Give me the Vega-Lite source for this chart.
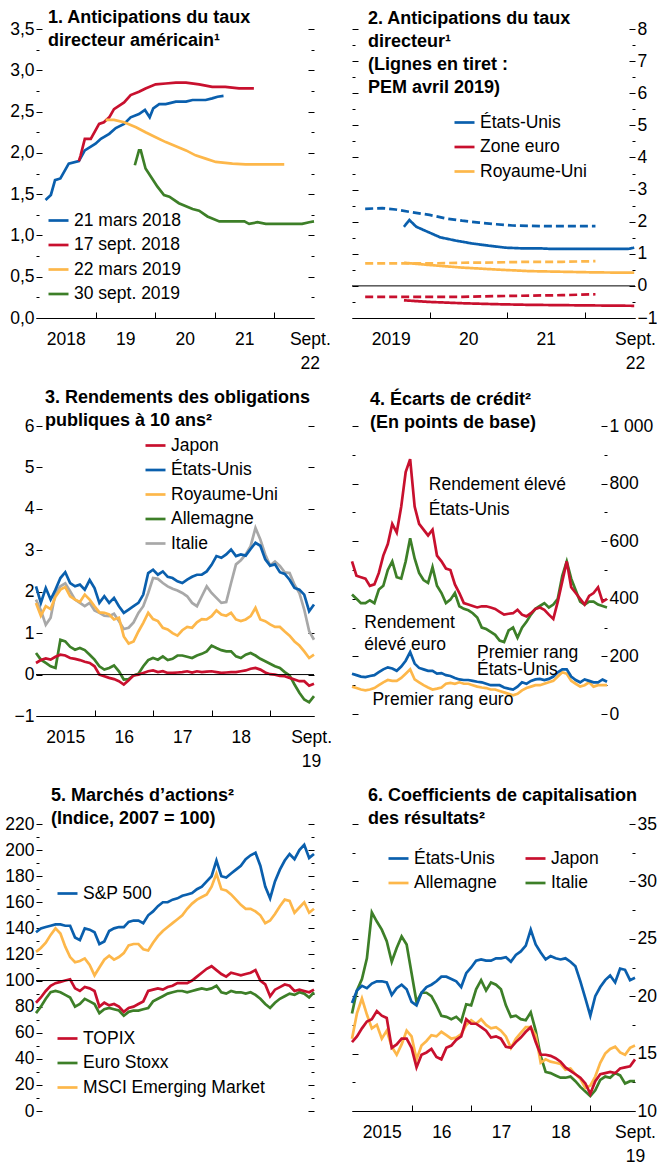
{
"$schema": "https://vega.github.io/schema/vega-lite/v6.json",
"background": "white",
"padding": {"left": 4, "top": 9, "right": 0, "bottom": 0},
"columns": 2,
"bounds": "flush",
"spacing": {"row": 108, "column": 38},
"resolve": {"scale": {"x": "independent", "y": "independent", "color": "independent", "stroke": "independent", "strokeDash": "independent"}, "axis": {"x": "independent", "y": "independent"}, "legend": {"color": "independent", "stroke": "independent"}},
"datasets": {
"p1": [
{"s":"21 mars 2018","t":2018.16,"v":1.43},{"s":"21 mars 2018","t":2018.25,"v":1.49},{"s":"21 mars 2018","t":2018.32,"v":1.67},{"s":"21 mars 2018","t":2018.41,"v":1.69},{"s":"21 mars 2018","t":2018.55,"v":1.87},{"s":"21 mars 2018","t":2018.72,"v":1.9},{"s":"21 mars 2018","t":2018.82,"v":2.03},{"s":"21 mars 2018","t":2019.0,"v":2.11},{"s":"21 mars 2018","t":2019.09,"v":2.17},{"s":"21 mars 2018","t":2019.23,"v":2.23},{"s":"21 mars 2018","t":2019.34,"v":2.3},{"s":"21 mars 2018","t":2019.48,"v":2.35},{"s":"21 mars 2018","t":2019.59,"v":2.43},{"s":"21 mars 2018","t":2019.73,"v":2.47},{"s":"21 mars 2018","t":2019.83,"v":2.52},{"s":"21 mars 2018","t":2019.91,"v":2.43},{"s":"21 mars 2018","t":2019.97,"v":2.54},{"s":"21 mars 2018","t":2020.07,"v":2.59},{"s":"21 mars 2018","t":2020.18,"v":2.59},{"s":"21 mars 2018","t":2020.35,"v":2.62},{"s":"21 mars 2018","t":2020.52,"v":2.62},{"s":"21 mars 2018","t":2020.63,"v":2.64},{"s":"21 mars 2018","t":2020.85,"v":2.64},{"s":"21 mars 2018","t":2020.96,"v":2.66},{"s":"21 mars 2018","t":2021.05,"v":2.68},{"s":"21 mars 2018","t":2021.15,"v":2.69},
{"s":"17 sept. 2018","t":2018.72,"v":1.9},{"s":"17 sept. 2018","t":2018.75,"v":1.97},{"s":"17 sept. 2018","t":2018.82,"v":2.17},{"s":"17 sept. 2018","t":2018.92,"v":2.17},{"s":"17 sept. 2018","t":2019.06,"v":2.35},{"s":"17 sept. 2018","t":2019.14,"v":2.37},{"s":"17 sept. 2018","t":2019.23,"v":2.43},{"s":"17 sept. 2018","t":2019.31,"v":2.53},{"s":"17 sept. 2018","t":2019.48,"v":2.61},{"s":"17 sept. 2018","t":2019.59,"v":2.7},{"s":"17 sept. 2018","t":2019.73,"v":2.74},{"s":"17 sept. 2018","t":2019.84,"v":2.78},{"s":"17 sept. 2018","t":2020.01,"v":2.83},{"s":"17 sept. 2018","t":2020.18,"v":2.84},{"s":"17 sept. 2018","t":2020.35,"v":2.85},{"s":"17 sept. 2018","t":2020.52,"v":2.85},{"s":"17 sept. 2018","t":2020.74,"v":2.83},{"s":"17 sept. 2018","t":2020.96,"v":2.8},{"s":"17 sept. 2018","t":2021.18,"v":2.8},{"s":"17 sept. 2018","t":2021.41,"v":2.78},{"s":"17 sept. 2018","t":2021.66,"v":2.78},
{"s":"22 mars 2019","t":2019.17,"v":2.4},{"s":"22 mars 2019","t":2019.31,"v":2.4},{"s":"22 mars 2019","t":2019.48,"v":2.37},{"s":"22 mars 2019","t":2019.68,"v":2.31},{"s":"22 mars 2019","t":2019.84,"v":2.25},{"s":"22 mars 2019","t":2020.01,"v":2.19},{"s":"22 mars 2019","t":2020.18,"v":2.13},{"s":"22 mars 2019","t":2020.35,"v":2.08},{"s":"22 mars 2019","t":2020.52,"v":2.03},{"s":"22 mars 2019","t":2020.68,"v":1.97},{"s":"22 mars 2019","t":2020.85,"v":1.93},{"s":"22 mars 2019","t":2021.02,"v":1.89},{"s":"22 mars 2019","t":2021.3,"v":1.87},{"s":"22 mars 2019","t":2021.52,"v":1.86},{"s":"22 mars 2019","t":2021.86,"v":1.86},{"s":"22 mars 2019","t":2022.17,"v":1.86},
{"s":"30 sept. 2019","t":2019.66,"v":1.85},{"s":"30 sept. 2019","t":2019.73,"v":2.03},{"s":"30 sept. 2019","t":2019.76,"v":2.03},{"s":"30 sept. 2019","t":2019.84,"v":1.81},{"s":"30 sept. 2019","t":2019.95,"v":1.69},{"s":"30 sept. 2019","t":2020.04,"v":1.59},{"s":"30 sept. 2019","t":2020.15,"v":1.49},{"s":"30 sept. 2019","t":2020.24,"v":1.47},{"s":"30 sept. 2019","t":2020.4,"v":1.39},{"s":"30 sept. 2019","t":2020.63,"v":1.32},{"s":"30 sept. 2019","t":2020.74,"v":1.3},{"s":"30 sept. 2019","t":2020.88,"v":1.23},{"s":"30 sept. 2019","t":2021.08,"v":1.17},{"s":"30 sept. 2019","t":2021.3,"v":1.17},{"s":"30 sept. 2019","t":2021.5,"v":1.17},{"s":"30 sept. 2019","t":2021.58,"v":1.14},{"s":"30 sept. 2019","t":2021.72,"v":1.16},{"s":"30 sept. 2019","t":2021.86,"v":1.14},{"s":"30 sept. 2019","t":2022.14,"v":1.14},{"s":"30 sept. 2019","t":2022.47,"v":1.14},{"s":"30 sept. 2019","t":2022.59,"v":1.16},{"s":"30 sept. 2019","t":2022.67,"v":1.17}
],
"p2": [
{"s":"États-Unis","d":"a","t":2019.67,"v":1.84},{"s":"États-Unis","d":"a","t":2019.74,"v":2.05},{"s":"États-Unis","d":"a","t":2019.83,"v":1.84},{"s":"États-Unis","d":"a","t":2019.97,"v":1.69},{"s":"États-Unis","d":"a","t":2020.14,"v":1.51},{"s":"États-Unis","d":"a","t":2020.34,"v":1.41},{"s":"États-Unis","d":"a","t":2020.55,"v":1.32},{"s":"États-Unis","d":"a","t":2020.77,"v":1.25},{"s":"États-Unis","d":"a","t":2020.98,"v":1.19},{"s":"États-Unis","d":"a","t":2021.18,"v":1.17},{"s":"États-Unis","d":"a","t":2021.41,"v":1.17},{"s":"États-Unis","d":"a","t":2021.59,"v":1.15},{"s":"États-Unis","d":"a","t":2021.94,"v":1.15},{"s":"États-Unis","d":"a","t":2022.28,"v":1.15},{"s":"États-Unis","d":"a","t":2022.56,"v":1.15},{"s":"États-Unis","d":"a","t":2022.64,"v":1.19},
{"s":"États-Unis","d":"b","t":2019.17,"v":2.4},{"s":"États-Unis","d":"b","t":2019.39,"v":2.42},{"s":"États-Unis","d":"b","t":2019.56,"v":2.38},{"s":"États-Unis","d":"b","t":2019.78,"v":2.29},{"s":"États-Unis","d":"b","t":2020.0,"v":2.21},{"s":"États-Unis","d":"b","t":2020.21,"v":2.1},{"s":"États-Unis","d":"b","t":2020.42,"v":2.03},{"s":"États-Unis","d":"b","t":2020.64,"v":1.97},{"s":"États-Unis","d":"b","t":2020.86,"v":1.92},{"s":"États-Unis","d":"b","t":2021.07,"v":1.88},{"s":"États-Unis","d":"b","t":2021.5,"v":1.86},{"s":"États-Unis","d":"b","t":2022.14,"v":1.86},
{"s":"Zone euro","d":"a","t":2019.67,"v":-0.45},{"s":"Zone euro","d":"a","t":2020.0,"v":-0.5},{"s":"Zone euro","d":"a","t":2020.42,"v":-0.54},{"s":"Zone euro","d":"a","t":2020.86,"v":-0.57},{"s":"Zone euro","d":"a","t":2021.28,"v":-0.59},{"s":"Zone euro","d":"a","t":2021.71,"v":-0.6},{"s":"Zone euro","d":"a","t":2022.14,"v":-0.61},{"s":"Zone euro","d":"a","t":2022.64,"v":-0.62},
{"s":"Zone euro","d":"b","t":2019.17,"v":-0.34},{"s":"Zone euro","d":"b","t":2019.7,"v":-0.34},{"s":"Zone euro","d":"b","t":2020.42,"v":-0.34},{"s":"Zone euro","d":"b","t":2021.07,"v":-0.31},{"s":"Zone euro","d":"b","t":2021.71,"v":-0.29},{"s":"Zone euro","d":"b","t":2022.14,"v":-0.26},
{"s":"Royaume-Uni","d":"a","t":2019.67,"v":0.72},{"s":"Royaume-Uni","d":"a","t":2020.0,"v":0.65},{"s":"Royaume-Uni","d":"a","t":2020.42,"v":0.57},{"s":"Royaume-Uni","d":"a","t":2020.86,"v":0.51},{"s":"Royaume-Uni","d":"a","t":2021.28,"v":0.46},{"s":"Royaume-Uni","d":"a","t":2021.71,"v":0.44},{"s":"Royaume-Uni","d":"a","t":2022.14,"v":0.42},{"s":"Royaume-Uni","d":"a","t":2022.64,"v":0.41},
{"s":"Royaume-Uni","d":"b","t":2019.17,"v":0.7},{"s":"Royaume-Uni","d":"b","t":2019.7,"v":0.7},{"s":"Royaume-Uni","d":"b","t":2020.0,"v":0.7},{"s":"Royaume-Uni","d":"b","t":2020.42,"v":0.72},{"s":"Royaume-Uni","d":"b","t":2020.86,"v":0.73},{"s":"Royaume-Uni","d":"b","t":2021.28,"v":0.75},{"s":"Royaume-Uni","d":"b","t":2021.71,"v":0.75},{"s":"Royaume-Uni","d":"b","t":2022.14,"v":0.77}
],
"p3": [
{"t":2015,"JP":0.28,"US":2.13,"UK":1.73,"DE":0.52,"IT":1.81},
{"t":2015.083,"JP":0.35,"US":1.73,"UK":1.42,"DE":0.36,"IT":1.55},
{"t":2015.167,"JP":0.39,"US":2.09,"UK":1.65,"DE":0.28,"IT":1.2},
{"t":2015.25,"JP":0.36,"US":1.81,"UK":1.58,"DE":0.2,"IT":1.37},
{"t":2015.333,"JP":0.43,"US":2.05,"UK":1.88,"DE":0.16,"IT":1.97},
{"t":2015.417,"JP":0.48,"US":2.33,"UK":2.05,"DE":0.84,"IT":2.13},
{"t":2015.5,"JP":0.46,"US":2.47,"UK":2.11,"DE":0.8,"IT":2.2},
{"t":2015.583,"JP":0.4,"US":2.21,"UK":1.89,"DE":0.67,"IT":2.01},
{"t":2015.667,"JP":0.38,"US":2.13,"UK":1.81,"DE":0.6,"IT":1.81},
{"t":2015.75,"JP":0.35,"US":2.17,"UK":1.75,"DE":0.64,"IT":1.73},
{"t":2015.833,"JP":0.31,"US":2.05,"UK":1.93,"DE":0.59,"IT":1.65},
{"t":2015.917,"JP":0.28,"US":2.28,"UK":1.81,"DE":0.48,"IT":1.73},
{"t":2016,"JP":0.2,"US":2.09,"UK":1.65,"DE":0.36,"IT":1.55},
{"t":2016.083,"JP":0,"US":1.73,"UK":1.5,"DE":0.2,"IT":1.49},
{"t":2016.167,"JP":-0.04,"US":1.89,"UK":1.49,"DE":0.12,"IT":1.42},
{"t":2016.25,"JP":-0.08,"US":1.73,"UK":1.45,"DE":0.16,"IT":1.41},
{"t":2016.333,"JP":-0.11,"US":1.85,"UK":1.33,"DE":0.22,"IT":1.47},
{"t":2016.417,"JP":-0.16,"US":1.65,"UK":1.37,"DE":0.08,"IT":1.29},
{"t":2016.5,"JP":-0.24,"US":1.49,"UK":0.92,"DE":-0.12,"IT":1.1},
{"t":2016.583,"JP":-0.14,"US":1.57,"UK":0.75,"DE":-0.11,"IT":1.13},
{"t":2016.667,"JP":-0.02,"US":1.65,"UK":0.8,"DE":-0.02,"IT":1.26},
{"t":2016.75,"JP":0,"US":1.73,"UK":1.04,"DE":0.02,"IT":1.49},
{"t":2016.833,"JP":0.04,"US":1.93,"UK":1.25,"DE":0.2,"IT":1.65},
{"t":2016.917,"JP":0.08,"US":2.45,"UK":1.49,"DE":0.35,"IT":1.97},
{"t":2017,"JP":0.1,"US":2.53,"UK":1.34,"DE":0.4,"IT":2.33},
{"t":2017.083,"JP":0.06,"US":2.41,"UK":1.29,"DE":0.36,"IT":2.31},
{"t":2017.167,"JP":0.08,"US":2.49,"UK":1.13,"DE":0.44,"IT":2.21},
{"t":2017.25,"JP":0.04,"US":2.36,"UK":1.09,"DE":0.35,"IT":2.13},
{"t":2017.333,"JP":0.04,"US":2.33,"UK":1,"DE":0.38,"IT":2.07},
{"t":2017.417,"JP":0.05,"US":2.25,"UK":0.94,"DE":0.46,"IT":2.03},
{"t":2017.5,"JP":0.06,"US":2.21,"UK":1.07,"DE":0.46,"IT":1.97},
{"t":2017.583,"JP":0.08,"US":2.29,"UK":1.15,"DE":0.43,"IT":1.89},
{"t":2017.667,"JP":0.05,"US":2.36,"UK":1.13,"DE":0.4,"IT":1.73},
{"t":2017.75,"JP":0.08,"US":2.41,"UK":1.26,"DE":0.46,"IT":1.65},
{"t":2017.833,"JP":0.06,"US":2.41,"UK":1.34,"DE":0.5,"IT":1.89},
{"t":2017.917,"JP":0.07,"US":2.49,"UK":1.33,"DE":0.56,"IT":2.13},
{"t":2018,"JP":0.08,"US":2.65,"UK":1.41,"DE":0.7,"IT":1.97},
{"t":2018.083,"JP":0.06,"US":2.86,"UK":1.55,"DE":0.64,"IT":1.85},
{"t":2018.167,"JP":0.04,"US":2.82,"UK":1.45,"DE":0.59,"IT":1.73},
{"t":2018.25,"JP":0.05,"US":2.9,"UK":1.42,"DE":0.56,"IT":1.75},
{"t":2018.333,"JP":0.06,"US":3.02,"UK":1.49,"DE":0.56,"IT":2.21},
{"t":2018.417,"JP":0.06,"US":2.86,"UK":1.33,"DE":0.44,"IT":2.66},
{"t":2018.5,"JP":0.08,"US":2.9,"UK":1.29,"DE":0.4,"IT":2.76},
{"t":2018.583,"JP":0.1,"US":2.87,"UK":1.33,"DE":0.48,"IT":2.9},
{"t":2018.667,"JP":0.14,"US":3.03,"UK":1.41,"DE":0.52,"IT":3.1},
{"t":2018.75,"JP":0.16,"US":3.18,"UK":1.61,"DE":0.46,"IT":3.54},
{"t":2018.833,"JP":0.12,"US":3.11,"UK":1.33,"DE":0.38,"IT":3.26},
{"t":2018.917,"JP":0.05,"US":2.78,"UK":1.29,"DE":0.32,"IT":2.9},
{"t":2019,"JP":0.01,"US":2.63,"UK":1.21,"DE":0.26,"IT":2.63},
{"t":2019.083,"JP":0,"US":2.66,"UK":1.15,"DE":0.2,"IT":2.73},
{"t":2019.167,"JP":-0.03,"US":2.47,"UK":1.15,"DE":0.16,"IT":2.62},
{"t":2019.25,"JP":-0.04,"US":2.43,"UK":1.04,"DE":0.06,"IT":2.47},
{"t":2019.333,"JP":-0.08,"US":2.29,"UK":0.94,"DE":-0.02,"IT":2.45},
{"t":2019.417,"JP":-0.12,"US":2.09,"UK":0.8,"DE":-0.24,"IT":2.17},
{"t":2019.5,"JP":-0.16,"US":2.05,"UK":0.7,"DE":-0.44,"IT":1.97},
{"t":2019.583,"JP":-0.16,"US":1.93,"UK":0.56,"DE":-0.6,"IT":1.57},
{"t":2019.667,"JP":-0.27,"US":1.53,"UK":0.4,"DE":-0.67,"IT":1.05},
{"t":2019.75,"JP":-0.22,"US":1.69,"UK":0.48,"DE":-0.52,"IT":0.84}
],
"p4": [
{"t":2015,"HU":530,"HE":415,"IU":140,"IE":95},
{"t":2015.083,"HU":480,"HE":400,"IU":135,"IE":90},
{"t":2015.167,"HU":475,"HE":385,"IU":130,"IE":85},
{"t":2015.25,"HU":470,"HE":385,"IU":128,"IE":82},
{"t":2015.333,"HU":445,"HE":395,"IU":132,"IE":85},
{"t":2015.417,"HU":450,"HE":385,"IU":135,"IE":90},
{"t":2015.5,"HU":490,"HE":432,"IU":145,"IE":100},
{"t":2015.583,"HU":550,"HE":445,"IU":155,"IE":110},
{"t":2015.667,"HU":590,"HE":500,"IU":162,"IE":118},
{"t":2015.75,"HU":660,"HE":530,"IU":158,"IE":115},
{"t":2015.833,"HU":630,"HE":475,"IU":150,"IE":115},
{"t":2015.917,"HU":720,"HE":470,"IU":165,"IE":125},
{"t":2016,"HU":840,"HE":530,"IU":185,"IE":140},
{"t":2016.083,"HU":885,"HE":610,"IU":215,"IE":155},
{"t":2016.167,"HU":720,"HE":540,"IU":175,"IE":120},
{"t":2016.25,"HU":660,"HE":490,"IU":160,"IE":110},
{"t":2016.333,"HU":640,"HE":465,"IU":155,"IE":100},
{"t":2016.417,"HU":620,"HE":455,"IU":150,"IE":92},
{"t":2016.5,"HU":640,"HE":510,"IU":150,"IE":85},
{"t":2016.583,"HU":550,"HE":445,"IU":140,"IE":88},
{"t":2016.667,"HU":530,"HE":420,"IU":142,"IE":92},
{"t":2016.75,"HU":505,"HE":385,"IU":135,"IE":105},
{"t":2016.833,"HU":500,"HE":397,"IU":132,"IE":108},
{"t":2016.917,"HU":450,"HE":420,"IU":125,"IE":105},
{"t":2017,"HU":420,"HE":374,"IU":120,"IE":110},
{"t":2017.083,"HU":385,"HE":365,"IU":118,"IE":105},
{"t":2017.167,"HU":380,"HE":360,"IU":118,"IE":105},
{"t":2017.25,"HU":375,"HE":350,"IU":115,"IE":100},
{"t":2017.333,"HU":370,"HE":335,"IU":112,"IE":95},
{"t":2017.417,"HU":374,"HE":300,"IU":110,"IE":92},
{"t":2017.5,"HU":374,"HE":295,"IU":105,"IE":90},
{"t":2017.583,"HU":370,"HE":285,"IU":100,"IE":85},
{"t":2017.667,"HU":365,"HE":275,"IU":100,"IE":85},
{"t":2017.75,"HU":355,"HE":255,"IU":100,"IE":80},
{"t":2017.833,"HU":345,"HE":250,"IU":92,"IE":75},
{"t":2017.917,"HU":348,"HE":290,"IU":88,"IE":70},
{"t":2018,"HU":350,"HE":300,"IU":85,"IE":65},
{"t":2018.083,"HU":362,"HE":265,"IU":95,"IE":70},
{"t":2018.167,"HU":345,"HE":300,"IU":110,"IE":82},
{"t":2018.25,"HU":339,"HE":320,"IU":105,"IE":90},
{"t":2018.333,"HU":350,"HE":345,"IU":115,"IE":95},
{"t":2018.417,"HU":365,"HE":365,"IU":120,"IE":100},
{"t":2018.5,"HU":370,"HE":375,"IU":122,"IE":100},
{"t":2018.583,"HU":362,"HE":385,"IU":118,"IE":105},
{"t":2018.667,"HU":345,"HE":370,"IU":122,"IE":110},
{"t":2018.75,"HU":330,"HE":380,"IU":130,"IE":115},
{"t":2018.833,"HU":390,"HE":400,"IU":145,"IE":130},
{"t":2018.917,"HU":460,"HE":480,"IU":155,"IE":145},
{"t":2019,"HU":530,"HE":530,"IU":155,"IE":140},
{"t":2019.083,"HU":440,"HE":470,"IU":130,"IE":115},
{"t":2019.167,"HU":420,"HE":430,"IU":118,"IE":105},
{"t":2019.25,"HU":400,"HE":390,"IU":110,"IE":95},
{"t":2019.333,"HU":380,"HE":380,"IU":120,"IE":100},
{"t":2019.417,"HU":410,"HE":390,"IU":115,"IE":110},
{"t":2019.5,"HU":420,"HE":390,"IU":110,"IE":95},
{"t":2019.583,"HU":440,"HE":380,"IU":110,"IE":100},
{"t":2019.667,"HU":390,"HE":375,"IU":120,"IE":100},
{"t":2019.75,"HU":400,"HE":370,"IU":112,"IE":100}
],
"p4t": [
{"t":2016.43,"v":778,"l":"Rendement élevé"},
{"t":2016.43,"v":691,"l":"États-Unis"},
{"t":2015.23,"v":298,"l":"Rendement"},
{"t":2015.23,"v":221,"l":"élevé euro"},
{"t":2017.33,"v":194,"l":"Premier rang"},
{"t":2017.33,"v":136,"l":"États-Unis"},
{"t":2015.38,"v":30,"l":"Premier rang euro"}
],
"p5": [
{"t":2015,"TP":83,"ES":75,"EM":122,"SP":137},
{"t":2015.083,"TP":87,"ES":80,"EM":125,"SP":140},
{"t":2015.167,"TP":92,"ES":86,"EM":129,"SP":141},
{"t":2015.25,"TP":96,"ES":91,"EM":135,"SP":142},
{"t":2015.333,"TP":98,"ES":92,"EM":140,"SP":143},
{"t":2015.417,"TP":99,"ES":91,"EM":136,"SP":143},
{"t":2015.5,"TP":100,"ES":89,"EM":126,"SP":142},
{"t":2015.583,"TP":101,"ES":87,"EM":118,"SP":142},
{"t":2015.667,"TP":94,"ES":80,"EM":114,"SP":133},
{"t":2015.75,"TP":92,"ES":82,"EM":115,"SP":131},
{"t":2015.833,"TP":95,"ES":86,"EM":117,"SP":140},
{"t":2015.917,"TP":94,"ES":84,"EM":112,"SP":139},
{"t":2016,"TP":92,"ES":82,"EM":104,"SP":137},
{"t":2016.083,"TP":80,"ES":75,"EM":110,"SP":128},
{"t":2016.167,"TP":83,"ES":78,"EM":116,"SP":130},
{"t":2016.25,"TP":81,"ES":79,"EM":119,"SP":138},
{"t":2016.333,"TP":82,"ES":78,"EM":116,"SP":140},
{"t":2016.417,"TP":80,"ES":77,"EM":118,"SP":141},
{"t":2016.5,"TP":76,"ES":73,"EM":121,"SP":141},
{"t":2016.583,"TP":79,"ES":76,"EM":127,"SP":145},
{"t":2016.667,"TP":80,"ES":77,"EM":128,"SP":146},
{"t":2016.75,"TP":82,"ES":77,"EM":128,"SP":146},
{"t":2016.833,"TP":84,"ES":78,"EM":124,"SP":144},
{"t":2016.917,"TP":92,"ES":79,"EM":123,"SP":150},
{"t":2017,"TP":93,"ES":84,"EM":129,"SP":153},
{"t":2017.083,"TP":94,"ES":86,"EM":134,"SP":157},
{"t":2017.167,"TP":93,"ES":88,"EM":138,"SP":160},
{"t":2017.25,"TP":95,"ES":90,"EM":141,"SP":160},
{"t":2017.333,"TP":96,"ES":91,"EM":144,"SP":162},
{"t":2017.417,"TP":98,"ES":92,"EM":147,"SP":163},
{"t":2017.5,"TP":98,"ES":92,"EM":150,"SP":165},
{"t":2017.583,"TP":98,"ES":91,"EM":155,"SP":166},
{"t":2017.667,"TP":100,"ES":92,"EM":159,"SP":167},
{"t":2017.75,"TP":103,"ES":93,"EM":162,"SP":170},
{"t":2017.833,"TP":106,"ES":94,"EM":164,"SP":172},
{"t":2017.917,"TP":109,"ES":93,"EM":166,"SP":176},
{"t":2018,"TP":111,"ES":94,"EM":172,"SP":180},
{"t":2018.083,"TP":108,"ES":96,"EM":182,"SP":192},
{"t":2018.167,"TP":105,"ES":91,"EM":170,"SP":180},
{"t":2018.25,"TP":103,"ES":90,"EM":169,"SP":179},
{"t":2018.333,"TP":106,"ES":92,"EM":166,"SP":182},
{"t":2018.417,"TP":105,"ES":91,"EM":162,"SP":185},
{"t":2018.5,"TP":104,"ES":91,"EM":158,"SP":188},
{"t":2018.583,"TP":105,"ES":90,"EM":155,"SP":193},
{"t":2018.667,"TP":106,"ES":91,"EM":155,"SP":196},
{"t":2018.75,"TP":108,"ES":89,"EM":153,"SP":198},
{"t":2018.833,"TP":100,"ES":86,"EM":150,"SP":188},
{"t":2018.917,"TP":97,"ES":82,"EM":144,"SP":172},
{"t":2019,"TP":88,"ES":79,"EM":146,"SP":163},
{"t":2019.083,"TP":93,"ES":83,"EM":151,"SP":176},
{"t":2019.167,"TP":95,"ES":86,"EM":157,"SP":185},
{"t":2019.25,"TP":97,"ES":88,"EM":162,"SP":192},
{"t":2019.333,"TP":96,"ES":90,"EM":161,"SP":197},
{"t":2019.417,"TP":92,"ES":89,"EM":152,"SP":193},
{"t":2019.5,"TP":93,"ES":91,"EM":156,"SP":200},
{"t":2019.583,"TP":92,"ES":90,"EM":160,"SP":204},
{"t":2019.667,"TP":91,"ES":87,"EM":152,"SP":194},
{"t":2019.75,"TP":93,"ES":91,"EM":155,"SP":197}
],
"p6": [
{"t":2015,"US":19.4,"JP":16.0,"DE":16.3,"IT":18.5},
{"t":2015.083,"US":20.5,"JP":16.5,"DE":18.5,"IT":20.5},
{"t":2015.167,"US":20.9,"JP":17.2,"DE":19.8,"IT":21.5},
{"t":2015.25,"US":20.7,"JP":17.8,"DE":18.4,"IT":23.3},
{"t":2015.333,"US":21.1,"JP":18.0,"DE":17.2,"IT":27.3},
{"t":2015.417,"US":21.3,"JP":18.7,"DE":17.5,"IT":26.5},
{"t":2015.5,"US":21.3,"JP":18.3,"DE":16.3,"IT":25.8},
{"t":2015.583,"US":21.2,"JP":18.1,"DE":17.0,"IT":24.8},
{"t":2015.667,"US":20.1,"JP":15.5,"DE":15.6,"IT":23.0},
{"t":2015.75,"US":20.7,"JP":15.8,"DE":14.9,"IT":24.2},
{"t":2015.833,"US":21.0,"JP":16.3,"DE":15.8,"IT":25.2},
{"t":2015.917,"US":20.6,"JP":16.3,"DE":17.0,"IT":24.5},
{"t":2016,"US":19.5,"JP":15.5,"DE":16.5,"IT":22.0},
{"t":2016.083,"US":19.2,"JP":13.8,"DE":14.5,"IT":19.5},
{"t":2016.167,"US":20.3,"JP":14.9,"DE":15.7,"IT":20.3},
{"t":2016.25,"US":20.8,"JP":15.1,"DE":16.1,"IT":20.3},
{"t":2016.333,"US":21.0,"JP":15.4,"DE":16.6,"IT":20.0},
{"t":2016.417,"US":21.3,"JP":14.7,"DE":16.5,"IT":19.2},
{"t":2016.5,"US":21.7,"JP":14.5,"DE":16.9,"IT":18.3},
{"t":2016.583,"US":21.7,"JP":15.5,"DE":16.6,"IT":18.2},
{"t":2016.667,"US":21.5,"JP":15.7,"DE":16.3,"IT":18.0},
{"t":2016.75,"US":21.3,"JP":16.2,"DE":16.4,"IT":18.2},
{"t":2016.833,"US":20.8,"JP":16.5,"DE":16.7,"IT":17.8},
{"t":2016.917,"US":22.0,"JP":18.0,"DE":17.5,"IT":19.3},
{"t":2017,"US":22.5,"JP":17.6,"DE":17.9,"IT":19.2},
{"t":2017.083,"US":23.1,"JP":17.6,"DE":17.6,"IT":20.6},
{"t":2017.167,"US":23.2,"JP":17.3,"DE":18.0,"IT":21.4},
{"t":2017.25,"US":23.1,"JP":17.0,"DE":17.5,"IT":20.5},
{"t":2017.333,"US":23.1,"JP":16.4,"DE":17.2,"IT":21.2},
{"t":2017.417,"US":23.3,"JP":16.5,"DE":17.3,"IT":21.0},
{"t":2017.5,"US":23.3,"JP":16.3,"DE":17.0,"IT":20.6},
{"t":2017.583,"US":23.4,"JP":15.6,"DE":16.5,"IT":19.2},
{"t":2017.667,"US":23.0,"JP":15.5,"DE":15.5,"IT":18.2},
{"t":2017.75,"US":23.6,"JP":16.0,"DE":16.3,"IT":18.3},
{"t":2017.833,"US":23.9,"JP":16.4,"DE":16.8,"IT":18.0},
{"t":2017.917,"US":24.4,"JP":16.9,"DE":17.3,"IT":17.9},
{"t":2018,"US":25.8,"JP":17.3,"DE":17.3,"IT":18.6},
{"t":2018.083,"US":24.5,"JP":16.0,"DE":16.6,"IT":17.0},
{"t":2018.167,"US":23.8,"JP":14.9,"DE":14.2,"IT":14.8},
{"t":2018.25,"US":23.2,"JP":14.9,"DE":14.5,"IT":13.4},
{"t":2018.333,"US":23.5,"JP":14.8,"DE":14.3,"IT":13.3},
{"t":2018.417,"US":23.3,"JP":14.6,"DE":14.2,"IT":13.1},
{"t":2018.5,"US":23.2,"JP":14.3,"DE":14.1,"IT":12.9},
{"t":2018.583,"US":23.3,"JP":13.8,"DE":13.6,"IT":12.9},
{"t":2018.667,"US":23.0,"JP":13.5,"DE":13.7,"IT":13.0},
{"t":2018.75,"US":22.6,"JP":13.2,"DE":13.2,"IT":12.6},
{"t":2018.833,"US":21.3,"JP":12.9,"DE":12.8,"IT":12.1},
{"t":2018.917,"US":19.8,"JP":12.4,"DE":12.0,"IT":11.7},
{"t":2019,"US":18.3,"JP":11.5,"DE":12.2,"IT":11.3},
{"t":2019.083,"US":20.0,"JP":12.6,"DE":13.0,"IT":11.8},
{"t":2019.167,"US":20.8,"JP":13.2,"DE":14.2,"IT":12.7},
{"t":2019.25,"US":21.4,"JP":13.3,"DE":15.0,"IT":13.0},
{"t":2019.333,"US":21.8,"JP":13.4,"DE":15.4,"IT":12.9},
{"t":2019.417,"US":21.2,"JP":13.3,"DE":15.6,"IT":13.3},
{"t":2019.5,"US":22.4,"JP":13.7,"DE":15.1,"IT":13.1},
{"t":2019.583,"US":22.3,"JP":13.8,"DE":14.9,"IT":12.4},
{"t":2019.667,"US":21.4,"JP":13.9,"DE":15.5,"IT":12.6},
{"t":2019.75,"US":21.6,"JP":14.5,"DE":15.7,"IT":12.6}
]
},
"concat": [
{
 "width": 278, "height": 289,
 "title": {"text": ["1. Anticipations du taux", "\u00a0\u00a0\u00a0\u00a0directeur américain¹"], "dx": 12, "offset": -30},
 "layer": [
  {
   "data": {"name": "p1"},
   "mark": {"type": "line", "strokeWidth": 2.7},
   "encoding": {
    "x": {"field": "t", "type": "quantitative", "scale": {"domain": [2018, 2022.67], "nice": false, "zero": false},
     "axis": {"title": null, "orient": "bottom", "values": [2018.5,2019,2019.5,2020,2020.5,2021,2021.5,2022,2022.6],
      "labelExpr": "datum.value==2018.5?'2018':datum.value==2019.5?'19':datum.value==2020.5?'20':datum.value==2021.5?'21':datum.value==2022.6?['Sept.','22']:''",
      "tickSize": {"condition": {"test": "datum.value % 1 == 0", "value": -6}, "value": 0}, "labelPadding": 12}},
    "y": {"field": "v", "type": "quantitative", "scale": {"domain": [0, 3.5], "nice": false, "zero": false},
     "axis": {"title": null, "orient": "left", "domain": false, "values": [0,0.25,0.5,0.75,1,1.25,1.5,1.75,2,2.25,2.5,2.75,3,3.25,3.5],
      "labelExpr": "datum.value % 0.5 == 0 ? replace(format(datum.value,'.1f'),'.',',') : ''",
      "tickSize": {"condition": {"test": "datum.value % 0.5 != 0", "value": -3}, "value": -6}, "labelPadding": 8}},
    "color": {"field": "s", "type": "nominal", "scale": {"domain": ["21 mars 2018","17 sept. 2018","22 mars 2019","30 sept. 2019"], "range": ["#0a5fad","#c8102e","#fdb74a","#3d7f28"]},
     "legend": {"title": null, "orient": "none", "legendX": 11, "legendY": 180}}
   }
  },
  {
   "data": {"values": [{}]},
   "mark": {"type": "rule", "opacity": 0},
   "encoding": {"y": {"datum": 0, "type": "quantitative",
     "axis": {"title": null, "orient": "right", "domain": false, "labels": false, "values": [0,0.25,0.5,0.75,1,1.25,1.5,1.75,2,2.25,2.5,2.75,3,3.25,3.5],
      "tickSize": {"condition": {"test": "datum.value % 0.5 != 0", "value": -3}, "value": -6}}}}
  }
 ],
 "resolve": {"axis": {"y": "independent"}}
},
{
 "width": 283, "height": 289,
 "title": {"text": ["2. Anticipations du taux", "\u00a0\u00a0\u00a0\u00a0directeur¹", "\u00a0\u00a0\u00a0\u00a0(Lignes en tiret :", "\u00a0\u00a0\u00a0\u00a0PEM avril 2019)"], "dx": 16, "offset": -77},
 "layer": [
  {
   "data": {"name": "p2"},
   "mark": {"type": "line", "strokeWidth": 2.7},
   "encoding": {
    "x": {"field": "t", "type": "quantitative", "scale": {"domain": [2019, 2022.65], "nice": false, "zero": false},
     "axis": {"title": null, "orient": "bottom", "values": [2019.5,2020,2020.5,2021,2021.5,2022,2022.65],
      "labelExpr": "datum.value==2019.5?'2019':datum.value==2020.5?'20':datum.value==2021.5?'21':datum.value==2022.65?['Sept.','22']:''",
      "tickSize": {"condition": {"test": "datum.value % 1 == 0", "value": -6}, "value": 0}, "labelPadding": 12}},
    "y": {"field": "v", "type": "quantitative", "scale": {"domain": [-1, 8], "nice": false, "zero": false},
     "axis": {"title": null, "orient": "left", "domain": false, "labels": false, "values": [-1,-0.5,0,0.5,1,1.5,2,2.5,3,3.5,4,4.5,5,5.5,6,6.5,7,7.5,8],
      "tickSize": {"condition": {"test": "datum.value % 1 != 0", "value": -3}, "value": -6}}},
    "color": {"field": "s", "type": "nominal", "scale": {"domain": ["États-Unis","Zone euro","Royaume-Uni"], "range": ["#0a5fad","#c8102e","#fdb74a"]},
     "legend": {"title": null, "orient": "none", "legendX": 101, "legendY": 82}},
    "strokeDash": {"field": "d", "type": "nominal", "scale": {"domain": ["a","b"], "range": [[1,0],[8,4]]}, "legend": null}
   }
  },
  {
   "data": {"values": [{}]},
   "mark": {"type": "rule", "color": "#000", "strokeWidth": 1},
   "encoding": {"y": {"datum": 0, "type": "quantitative",
     "axis": {"title": null, "orient": "right", "domain": false, "values": [-1,-0.5,0,0.5,1,1.5,2,2.5,3,3.5,4,4.5,5,5.5,6,6.5,7,7.5,8],
      "labelExpr": "datum.value % 1 == 0 ? format(datum.value,'d') : ''",
      "tickSize": {"condition": {"test": "datum.value % 1 != 0", "value": -3}, "value": -6}, "labelPadding": 8}}}
  }
 ],
 "resolve": {"axis": {"y": "independent"}}
},
{
 "width": 278, "height": 290,
 "title": {"text": ["3. Rendements des obligations", "\u00a0\u00a0\u00a0\u00a0publiques à 10 ans²"], "dx": 9, "offset": -13},
 "layer": [
  {
   "data": {"name": "p3"},
   "transform": [{"fold": ["IT","UK","DE","JP","US"], "as": ["key","value"]}],
   "mark": {"type": "line", "strokeWidth": 2.7},
   "encoding": {
    "x": {"field": "t", "type": "quantitative", "scale": {"domain": [2015, 2019.75], "nice": false, "zero": false},
     "axis": {"title": null, "orient": "bottom", "values": [2015.5,2016,2016.5,2017,2017.5,2018,2018.5,2019,2019.7],
      "labelExpr": "datum.value==2015.5?'2015':datum.value==2016.5?'16':datum.value==2017.5?'17':datum.value==2018.5?'18':datum.value==2019.7?['Sept.','19']:''",
      "tickSize": {"condition": {"test": "datum.value % 1 == 0", "value": -6}, "value": 0}, "labelPadding": 12}},
    "y": {"field": "value", "type": "quantitative", "scale": {"domain": [-1, 6], "nice": false, "zero": false},
     "axis": {"title": null, "orient": "left", "domain": false, "values": [-1,0,1,2,3,4,5,6],
      "labelExpr": "format(datum.value,'d')", "tickSize": -6, "labelPadding": 8}},
    "color": {"field": "key", "type": "nominal", "scale": {"domain": ["JP","US","UK","DE","IT"], "range": ["#c8102e","#0a5fad","#fdb74a","#3d7f28","#a8a8a8"]},
     "legend": {"title": null, "orient": "none", "legendX": 108, "legendY": 8,
      "labelExpr": "datum.label=='JP'?'Japon':datum.label=='US'?'États-Unis':datum.label=='UK'?'Royaume-Uni':datum.label=='DE'?'Allemagne':'Italie'"}}
   }
  },
  {
   "data": {"values": [{}]},
   "mark": {"type": "rule", "color": "#000", "strokeWidth": 1},
   "encoding": {"y": {"datum": 0, "type": "quantitative",
     "axis": {"title": null, "orient": "right", "domain": false, "labels": false, "values": [-1,0,1,2,3,4,5,6], "tickSize": -6}}}
  }
 ],
 "resolve": {"axis": {"y": "independent"}}
},
{
 "width": 255, "height": 288,
 "title": {"text": ["4. Écarts de crédit²", "\u00a0\u00a0\u00a0\u00a0(En points de base)"], "dx": 18, "offset": -15},
 "layer": [
  {
   "data": {"name": "p4"},
   "transform": [{"fold": ["IE","IU","HE","HU"], "as": ["key","value"]}],
   "mark": {"type": "line", "strokeWidth": 2.7},
   "encoding": {
    "x": {"field": "t", "type": "quantitative", "scale": {"domain": [2015, 2019.75], "nice": false, "zero": false},
     "axis": {"title": null, "orient": "bottom", "values": [2015.5,2016,2016.5,2017,2017.5,2018,2018.5,2019,2019.75],
      "labelExpr": "datum.value==2015.5?'2015':datum.value==2016.5?'16':datum.value==2017.5?'17':datum.value==2018.5?'18':datum.value==2019.75?['Sept.','19']:''",
      "tickSize": {"condition": {"test": "datum.value % 1 == 0", "value": -6}, "value": 0}, "labelPadding": 12}},
    "y": {"field": "value", "type": "quantitative", "scale": {"domain": [0, 1000], "nice": false, "zero": false},
     "axis": {"title": null, "orient": "left", "domain": false, "labels": false, "values": [0,100,200,300,400,500,600,700,800,900,1000],
      "tickSize": {"condition": {"test": "datum.value % 200 != 0", "value": -3}, "value": -6}}},
    "color": {"field": "key", "type": "nominal", "scale": {"domain": ["IE","IU","HE","HU"], "range": ["#fdb74a","#0a5fad","#3d7f28","#c8102e"]}, "legend": null}
   }
  },
  {
   "data": {"name": "p4t"},
   "mark": {"type": "text", "align": "left", "baseline": "alphabetic", "fontSize": 17.5, "font": "Liberation Sans", "color": "#000"},
   "encoding": {
    "x": {"field": "t", "type": "quantitative", "axis": null},
    "y": {"field": "v", "type": "quantitative",
     "axis": {"title": null, "orient": "right", "domain": false, "values": [0,100,200,300,400,500,600,700,800,900,1000],
      "labelExpr": "datum.value % 200 == 0 ? replace(format(datum.value,','),',',' ') : ''",
      "tickSize": {"condition": {"test": "datum.value % 200 != 0", "value": -3}, "value": -6}, "labelPadding": 8}},
    "text": {"field": "l"}
   }
  }
 ],
 "resolve": {"axis": {"y": "independent"}}
},
{
 "width": 278, "height": 287,
 "title": {"text": ["5. Marchés d’actions²", "\u00a0\u00a0\u00a0\u00a0(Indice, 2007 = 100)"], "dx": 15, "offset": -13},
 "layer": [
  {
   "data": {"name": "p5"},
   "transform": [{"fold": ["ES","TP","EM"], "as": ["key","value"]}],
   "mark": {"type": "line", "strokeWidth": 2.7},
   "encoding": {
    "x": {"field": "t", "type": "quantitative", "scale": {"domain": [2015, 2019.75], "nice": false, "zero": false},
     "axis": {"title": null, "orient": "bottom", "values": [2015.5,2016,2016.5,2017,2017.5,2018,2018.5,2019,2019.7],
      "labelExpr": "datum.value==2015.5?'2015':datum.value==2016.5?'16':datum.value==2017.5?'17':datum.value==2018.5?'18':datum.value==2019.7?['Sept.','19']:''",
      "tickSize": {"condition": {"test": "datum.value % 1 == 0", "value": -6}, "value": 0}, "labelPadding": 12}},
    "y": {"field": "value", "type": "quantitative", "scale": {"domain": [0, 220], "nice": false, "zero": false},
     "axis": {"title": null, "orient": "left", "domain": false, "values": [0,10,20,30,40,50,60,70,80,90,100,110,120,130,140,150,160,170,180,190,200,210,220],
      "labelExpr": "datum.value % 20 == 0 ? format(datum.value,'d') : ''",
      "tickSize": {"condition": {"test": "datum.value % 20 != 0", "value": -3}, "value": -6}, "labelPadding": 8}},
    "color": {"field": "key", "type": "nominal", "scale": {"domain": ["TP","ES","EM"], "range": ["#c8102e","#3d7f28","#fdb74a"]},
     "legend": {"title": null, "orient": "none", "legendX": 20, "legendY": 203,
      "labelExpr": "datum.label=='TP'?'TOPIX':datum.label=='ES'?'Euro Stoxx':'MSCI Emerging Market'"}}
   }
  },
  {
   "data": {"name": "p5"},
   "transform": [{"fold": ["SP"], "as": ["key","value"]}],
   "mark": {"type": "line", "strokeWidth": 2.7},
   "encoding": {
    "x": {"field": "t", "type": "quantitative", "axis": null},
    "y": {"field": "value", "type": "quantitative", "axis": null},
    "stroke": {"field": "key", "type": "nominal", "scale": {"domain": ["SP"], "range": ["#0a5fad"]},
     "legend": {"title": null, "orient": "none", "legendX": 20, "legendY": 58, "labelExpr": "'S&P 500'"}}
   }
  },
  {
   "data": {"values": [{}]},
   "mark": {"type": "rule", "color": "#000", "strokeWidth": 1},
   "encoding": {"y": {"datum": 100, "type": "quantitative",
     "axis": {"title": null, "orient": "right", "domain": false, "labels": false, "values": [0,10,20,30,40,50,60,70,80,90,100,110,120,130,140,150,160,170,180,190,200,210,220],
      "tickSize": {"condition": {"test": "datum.value % 20 != 0", "value": -3}, "value": -6}}}}
  }
 ],
 "resolve": {"axis": {"y": "independent"}}
},
{
 "width": 283, "height": 287,
 "title": {"text": ["6. Coefficients de capitalisation", "\u00a0\u00a0\u00a0\u00a0des résultats²"], "dx": 16, "offset": -13},
 "layer": [
  {
   "data": {"name": "p6"},
   "transform": [{"fold": ["IT","DE","JP","US"], "as": ["key","value"]}],
   "mark": {"type": "line", "strokeWidth": 2.7},
   "encoding": {
    "x": {"field": "t", "type": "quantitative", "scale": {"domain": [2015, 2019.75], "nice": false, "zero": false},
     "axis": {"title": null, "orient": "bottom", "values": [2015.5,2016,2016.5,2017,2017.5,2018,2018.5,2019,2019.75],
      "labelExpr": "datum.value==2015.5?'2015':datum.value==2016.5?'16':datum.value==2017.5?'17':datum.value==2018.5?'18':datum.value==2019.75?['Sept.','19']:''",
      "tickSize": {"condition": {"test": "datum.value % 1 == 0", "value": -6}, "value": 0}, "labelPadding": 12}},
    "y": {"field": "value", "type": "quantitative", "scale": {"domain": [10, 35], "nice": false, "zero": false},
     "axis": {"title": null, "orient": "left", "domain": false, "labels": false, "values": [10,12.5,15,17.5,20,22.5,25,27.5,30,32.5,35],
      "tickSize": {"condition": {"test": "datum.value % 5 != 0", "value": -3}, "value": -6}}},
    "color": {"field": "key", "type": "nominal", "scale": {"domain": ["US","JP","DE","IT"], "range": ["#0a5fad","#c8102e","#fdb74a","#3d7f28"]},
     "legend": {"title": null, "orient": "none", "legendX": 35, "legendY": 23, "columns": 2, "direction": "horizontal", "columnPadding": 23,
      "labelExpr": "datum.label=='US'?'États-Unis':datum.label=='JP'?'Japon':datum.label=='DE'?'Allemagne':'Italie'"}}
   }
  },
  {
   "data": {"values": [{}]},
   "mark": {"type": "rule", "opacity": 0},
   "encoding": {"y": {"datum": 20, "type": "quantitative",
     "axis": {"title": null, "orient": "right", "domain": false, "values": [10,12.5,15,17.5,20,22.5,25,27.5,30,32.5,35],
      "labelExpr": "datum.value % 5 == 0 ? format(datum.value,'d') : ''",
      "tickSize": {"condition": {"test": "datum.value % 5 != 0", "value": -3}, "value": -6}, "labelPadding": 8}}}
  }
 ],
 "resolve": {"axis": {"y": "independent"}}
}
],
"config": {
 "view": {"stroke": null},
 "font": "Liberation Sans",
 "axis": {"labelFont": "Liberation Sans", "labelFontSize": 17.5, "labelColor": "#000", "tickColor": "#000", "tickWidth": 1, "domainColor": "#000", "domainWidth": 1, "grid": false, "labelFlush": false, "labelOverlap": false, "labelLineHeight": 24},
 "legend": {"labelFont": "Liberation Sans", "labelFontSize": 17.5, "labelColor": "#000", "symbolType": "stroke", "symbolStrokeWidth": 3, "symbolSize": 400, "rowPadding": 4.5, "labelOffset": 4, "padding": 0, "labelLimit": 400},
 "title": {"font": "Liberation Sans", "fontSize": 18, "fontWeight": "bold", "color": "#000", "anchor": "start", "frame": "group", "baseline": "top", "lineHeight": 23},
 "line": {"strokeWidth": 2.7}
}
}
